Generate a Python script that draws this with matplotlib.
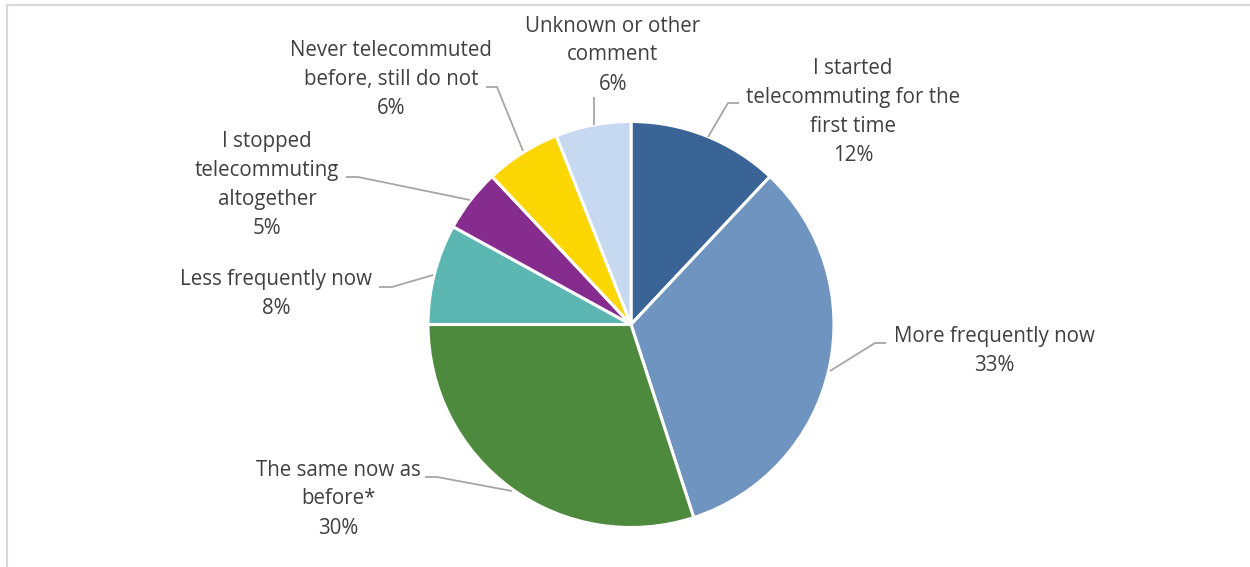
import matplotlib.pyplot as plt
from matplotlib.patches import Rectangle

# survey answers, clockwise from 12 o'clock
categories = [
    "I started\ntelecommuting for the\nfirst time",
    "More frequently now",
    "The same now as\nbefore*",
    "Less frequently now",
    "I stopped\ntelecommuting\naltogether",
    "Never telecommuted\nbefore, still do not",
    "Unknown or other\ncomment",
]
shares = [12, 33, 30, 8, 5, 6, 6]
colors = ["#3B6496", "#7094C0", "#4E8A3E", "#5CB6B2", "#862C8E", "#FCD600", "#C6D9F0"]

W, H = 1250, 567

# label anchor (pixel coords, origin top-left) and leader polylines
label_xy = [(853, 112), (994, 351), (338, 499), (276, 294), (267, 185), (391, 80), (613, 55)]
leaders = [
    [(739, 103), (728, 103), (708, 137)],
    [(886, 343), (875, 343), (830, 371)],
    [(425, 477), (437, 477), (512, 491)],
    [(379, 287), (392, 287), (433, 275)],
    [(346, 177), (358, 177), (470, 200)],
    [(486, 87), (497, 87), (523, 151)],
    [(594, 97), (594, 125)],
]

plt.rcParams['font.family'] = ['Open Sans', 'DejaVu Sans']

fig = plt.figure(figsize=(W / 100, H / 100), dpi=100)
ax = fig.add_axes([0, 0, 1, 1])

cx, cy, r = 631, H - 324.5, 203
ax.pie(shares, colors=colors, startangle=90, counterclock=False,
       center=(cx, cy), radius=r,
       wedgeprops=dict(edgecolor="white", linewidth=2.2))

for pts in leaders:
    xs = [p[0] for p in pts]
    ys = [H - p[1] for p in pts]
    ax.plot(xs, ys, color="#A6A6A6", lw=1.3, solid_capstyle="butt")

for lab, v, (x, y) in zip(categories, shares, label_xy):
    ax.text(x, H - y, f"{lab}\n{v}%", ha="center", va="center",
            fontsize=14.8, color="#404040", linespacing=1.5)

# chart border
ax.add_patch(Rectangle((7, -10), W + 20, H - 5 + 10, fill=False,
                       edgecolor="#D9D9D9", lw=1.6))

ax.set_xlim(0, W)
ax.set_ylim(0, H)
ax.set_aspect("equal")
ax.axis("off")

fig.savefig("out.png", dpi=100)
